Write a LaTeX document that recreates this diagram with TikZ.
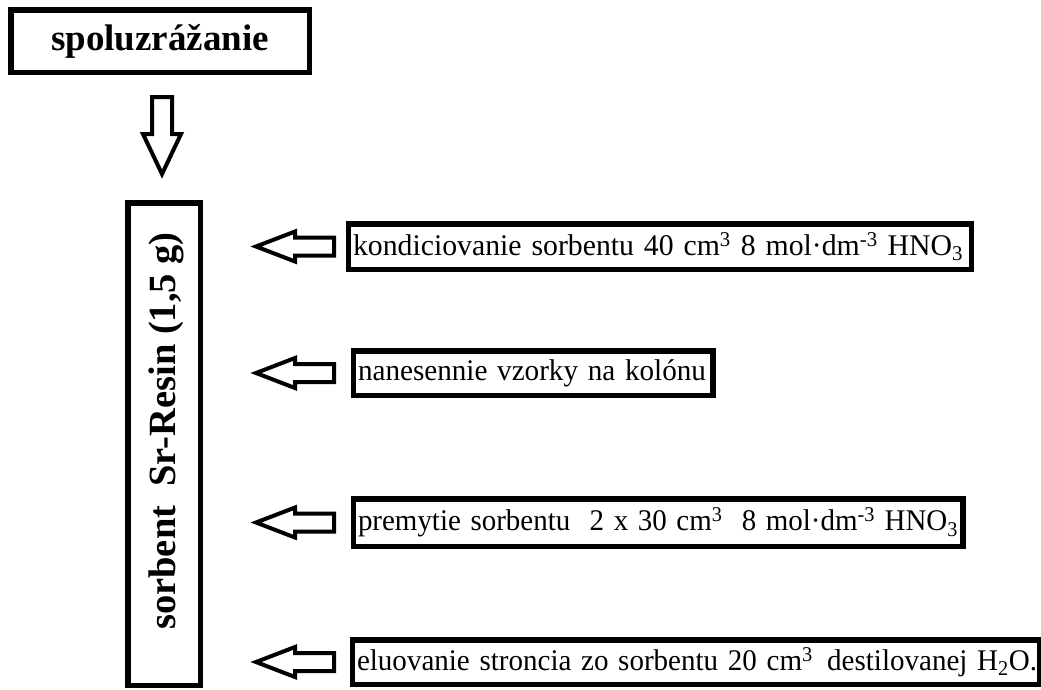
\documentclass[tikz,border=0pt]{standalone}
\usepackage{fontspec}
\usepackage{graphicx}
\setmainfont{Liberation Serif}
\usetikzlibrary{calc}
\newcommand{\fitw}[2]{\resizebox{#1}{\height}{#2}}
\begin{document}
\begin{tikzpicture}[x=1pt,y=-1pt,
  frame/.style={draw=black, line width=5.5pt, inner sep=0pt, fill=white},
  stepbox/.style={frame, anchor=west, inner xsep=4.5pt, align=left,
     font=\fontsize{30}{32}\selectfont},
  boldtxt/.style={font=\bfseries\fontsize{37}{40}\selectfont},
  blockarrow/.style={draw=black, line width=4pt, line join=miter, fill=white}]
\useasboundingbox (0,0) rectangle (1041,689);
\fill[white] (0,0) rectangle (1041,689);

% top box
\node[frame, boldtxt, minimum width=298.5pt, minimum height=62.5pt] (spolu) at (160,41) {spoluzrážanie};

% column
\node[frame, minimum width=72.5pt, minimum height=482.5pt] (col) at (164,444) {};
\node[font=\bfseries\fontsize{38.5}{40}\selectfont, rotate=90, inner sep=0pt] (coltext) at (166,431) {sorbent\ \ Sr-Resin (1,5 g)};

% step boxes
\node[stepbox, text width=614pt, minimum height=45.5pt] (b1) at (345.75,246.5)
  {\fitw{610pt}{kondiciovanie sorbentu 40 cm\textsuperscript{3} 8 mol·dm\textsuperscript{-3} HNO\textsubscript{3}}};
\node[stepbox, text width=350.5pt, minimum height=44.5pt] (b2) at (350.75,373)
  {\fitw{348pt}{nanesennie vzorky na kolónu}};
\node[stepbox, text width=600.5pt, minimum height=47.5pt] (b3) at (350.75,522.5)
  {\fitw{600pt}{premytie sorbentu\ \ 2 x 30 cm\textsuperscript{3}\ \ 8 mol·dm\textsuperscript{-3} HNO\textsubscript{3}}};
\node[stepbox, text width=678.5pt, minimum height=44.5pt] (b4) at (349.75,662)
  {\fitw{680pt}{eluovanie stroncia zo sorbentu 20 cm\textsuperscript{3}\ \,destilovanej H\textsubscript{2}O.}};

% down block arrow from spolu to col
\coordinate (dtop) at ($(spolu.south)+(2,22)$);
\draw[blockarrow] (dtop) ++(-10,0) -- ++(20,0) -- ++(0,37) -- ++(9,0)
  -- ++(-19,40) -- ++(-19,-40) -- ++(9,0) -- cycle;

% left block arrows from step boxes to column
\foreach \b in {b1,b2,b3,b4}{
  \coordinate (tip-\b) at ($(col.east |- \b.west)+(53,0)$);
  \draw[blockarrow] (tip-\b) -- ++(39,-15) -- ++(0,6) -- ++(39,0) -- ++(0,18)
    -- ++(-39,0) -- ++(0,6) -- cycle;
}
\end{tikzpicture}
\end{document}
